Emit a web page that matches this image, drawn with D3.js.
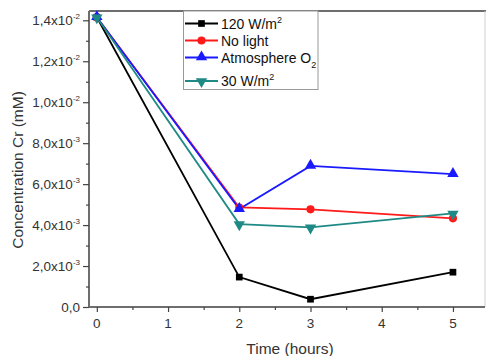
<!DOCTYPE html>
<html><head><meta charset="utf-8">
<script src="https://cdn.jsdelivr.net/npm/d3@7"></script>
<style>
html,body{margin:0;padding:0;background:#fff;}
svg{display:block;font-family:"Liberation Sans",Arial,sans-serif;}
</style></head>
<body>
<svg id="c" width="486" height="356"></svg>
<script>
const times = [0, 2, 3, 5];
const s120 = [0.01415, 0.00146, 0.00038, 0.00170];
const sNoLight = [0.01415, 0.00486, 0.00477, 0.00433];
const sAtmO2 = [0.01415, 0.00478, 0.00689, 0.00649];
const s30 = [0.01415, 0.00405, 0.00389, 0.00457];
const seriesNames = ["120 W/m", "No light", "Atmosphere O", "30 W/m"];
const seriesSup = ["2", "", "", "2"];
const seriesSub = ["", "", "2", ""];
const seriesColors = ["#000000", "#ff1a1a", "#1a1aff", "#1f8a85"];
const seriesSymbols = ["square", "circle", "triangle", "triangleDown"];
const xTicks = [0, 1, 2, 3, 4, 5];
const yTickMant = ["0,0", "2,0", "4,0", "6,0", "8,0", "1,0", "1,2", "1,4"];
const yTickExp = ["", "-3", "-3", "-3", "-3", "-2", "-2", "-2"];
const yTickVals = [0, 0.002, 0.004, 0.006, 0.008, 0.010, 0.012, 0.014];

const L = 89, R = 485, T = 11, B = 307;
const svg = d3.select("#c");
const x = d3.scaleLinear().domain([-0.11, 5.45]).range([L, R]);
const y = d3.scaleLinear().domain([0, 0.014]).range([B, 20.3]);

// frame
const frameCol = "#6e6e6e";
svg.append("line").attr("x1", L).attr("x2", 486).attr("y1", T).attr("y2", T).attr("stroke", frameCol).attr("stroke-width", 2);
svg.append("line").attr("x1", R).attr("x2", R).attr("y1", T).attr("y2", B).attr("stroke", "#cfcfcf").attr("stroke-width", 1);

// y axis
const yAxis = d3.axisLeft(y).tickValues(yTickVals).tickSize(6).tickFormat("");
const gy = svg.append("g").attr("transform", `translate(${L},0)`).call(yAxis);
gy.select(".domain").attr("d", `M0,${T}V${B}`).attr("stroke", frameCol).attr("stroke-width", 2);
gy.selectAll(".tick line").attr("stroke", "#444").attr("stroke-width", 1.2);
const yMinor = d3.axisLeft(y).tickValues(d3.range(7).map(i => 0.001 + i * 0.002)).tickSize(3).tickFormat("");
const gym = svg.append("g").attr("transform", `translate(${L},0)`).call(yMinor);
gym.select(".domain").remove();
gym.selectAll(".tick line").attr("stroke", "#444").attr("stroke-width", 1.2);

yTickVals.forEach((v, i) => {
  const t = svg.append("text").attr("x", 80).attr("y", y(v) + 4.5).attr("text-anchor", "end")
    .attr("font-size", 13.5).attr("fill", "#333");
  if (yTickExp[i]) {
    t.append("tspan").text(yTickMant[i] + "x10");
    t.append("tspan").attr("dy", -5.5).attr("font-size", 8).text(yTickExp[i]);
  } else {
    t.text(yTickMant[i]);
  }
});

// x axis
const xAxis = d3.axisBottom(x).tickValues(xTicks).tickSize(5).tickFormat("");
const gx = svg.append("g").attr("transform", `translate(0,${B})`).call(xAxis);
gx.select(".domain").attr("d", `M${L},0H${R}`).attr("stroke", frameCol).attr("stroke-width", 2);
gx.selectAll(".tick line").attr("stroke", "#444").attr("stroke-width", 1.2);
const xMinor = d3.axisBottom(x).tickValues([0.5, 1.5, 2.5, 3.5, 4.5]).tickSize(3).tickFormat("");
const gxm = svg.append("g").attr("transform", `translate(0,${B})`).call(xMinor);
gxm.select(".domain").remove();
gxm.selectAll(".tick line").attr("stroke", "#444").attr("stroke-width", 1.2);
xTicks.forEach(v => {
  svg.append("text").attr("x", x(v)).attr("y", 327.5).attr("text-anchor", "middle")
    .attr("font-size", 13.5).attr("fill", "#333").text(v);
});

// titles
svg.append("text").attr("x", 290).attr("y", 353.5).attr("text-anchor", "middle")
  .attr("font-size", 15.5).attr("fill", "#333").text("Time (hours)");
svg.append("text").attr("transform", "translate(22.5,170) rotate(-90)").attr("text-anchor", "middle")
  .attr("font-size", 15.5).attr("fill", "#333").text("Concentration Cr (mM)");

// series
const allSeries = [s120, sNoLight, sAtmO2, s30];
const line = d3.line().x((d, i) => x(times[i])).y(d => y(d));
const symMap = {
  square: d3.symbol().type(d3.symbolSquare).size(45),
  circle: d3.symbol().type(d3.symbolCircle).size(52),
  triangle: d3.symbol().type(d3.symbolTriangle).size(56),
  triangleDown: d3.symbol().type(d3.symbolTriangle).size(56)
};
function addSym(g, k, cx, cy, col) {
  const p = g.append("path").attr("d", symMap[seriesSymbols[k]]()).attr("fill", col);
  const rot = seriesSymbols[k] === "triangleDown" ? " rotate(180)" : "";
  const dy = seriesSymbols[k] === "triangle" ? -0.5 : (seriesSymbols[k] === "triangleDown" ? 0.5 : 0);
  p.attr("transform", `translate(${cx},${cy + dy})${rot}`);
}
allSeries.forEach((s, k) => {
  svg.append("path").datum(s).attr("d", line).attr("fill", "none")
    .attr("stroke", seriesColors[k]).attr("stroke-width", 1.8);
});
allSeries.forEach((s, k) => {
  s.forEach((v, i) => addSym(svg, k, x(times[i]), y(v), seriesColors[k]));
});

// legend
const lg = svg.append("g");
lg.append("rect").attr("x", 183.5).attr("y", 11).attr("width", 134.5).attr("height", 78.5)
  .attr("fill", "#fff").attr("stroke", "#999").attr("stroke-width", 1);
const rowsY = [23.5, 40.5, 57.5, 81];
seriesNames.forEach((n, k) => {
  const ry = rowsY[k];
  lg.append("line").attr("x1", 185).attr("x2", 218).attr("y1", ry).attr("y2", ry)
    .attr("stroke", seriesColors[k]).attr("stroke-width", 1.8);
  addSym(lg, k, 201.5, ry, seriesColors[k]);
  const t = lg.append("text").attr("x", 221).attr("y", ry + 5).attr("font-size", 14).attr("fill", "#111");
  t.append("tspan").text(n);
  if (seriesSup[k]) t.append("tspan").attr("dy", -6).attr("font-size", 9).text(seriesSup[k]);
  if (seriesSub[k]) t.append("tspan").attr("dy", 5).attr("font-size", 9).text(seriesSub[k]);
});
</script>
</body></html>
